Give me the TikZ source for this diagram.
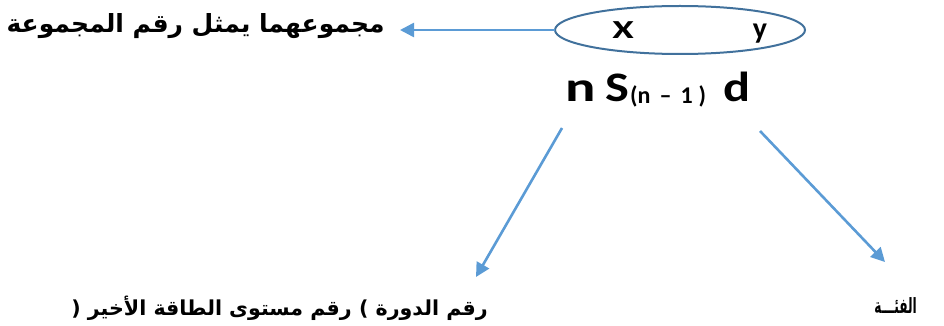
\documentclass[tikz,border=0pt]{standalone}
\usepackage{fontspec}
\usetikzlibrary{arrows.meta}
\TeXXeTstate=1
\newfontfamily\arabicfont[Script=Arabic]{DejaVu Sans}
\newfontfamily\latinfont{Carlito}
\definecolor{arrowblue}{HTML}{5B9BD5}
\definecolor{ringblue}{HTML}{41719C}
\tikzset{
  pointer/.style={draw=arrowblue, line width=2.6pt,
    -{Triangle[length=14pt,width=14pt]}},
  artext/.style={inner sep=0pt, font=\arabicfont\bfseries\fontsize{25}{25}\selectfont},
  lettertext/.style={inner sep=0pt, font=\latinfont\bfseries}
}
\begin{document}
\begin{tikzpicture}[x=1pt,y=-1pt]
\path[use as bounding box] (0,0) rectangle (944,326);

% ellipse grouping the two electron counts
\draw[draw=ringblue, line width=2pt] (680,30) ellipse [x radius=125, y radius=24];
\coordinate (ringW) at (555,30);
\node[lettertext, font=\latinfont\bfseries\fontsize{26}{26}\selectfont] (xx) at (623,30) {\scalebox{1.5}[1]{X}};
\node[lettertext, font=\latinfont\bfseries\fontsize{30}{30}\selectfont, anchor=base] (yy) at (760,39) {y};

% electron configuration  n s(n-1) d
\node[lettertext, font=\latinfont\bfseries\fontsize{42}{42}\selectfont, anchor=base west] (fn) at (565,102) {\scalebox{1.35}[1]{n}};
\node[lettertext, font=\latinfont\bfseries\fontsize{42}{42}\selectfont, anchor=base west] (fs) at (605,102) {\scalebox{1.2}[1]{S}};
\node[lettertext, font=\latinfont\bfseries\fontsize{24}{24}\selectfont, anchor=base west] (fsub) at (630,103)
  {(n\hspace{9pt}–\hspace{9pt}1\hspace{6pt})};
\node[lettertext, font=\latinfont\bfseries\fontsize{42}{42}\selectfont, anchor=base west] (fd) at (723,102) {\scalebox{1.2}[1]{d}};

% labels
\node[artext, anchor=base east] (sumlabel) at (385,33) {\beginR مجموعهما يمثل رقم المجموعة\endR};
\node[artext, anchor=base east, font=\arabicfont\bfseries\fontsize{20.6}{21}\selectfont] (periodlabel) at (488,315)
  {( {\beginR رقم مستوى الطاقة الأخير\endR} ) {\beginR رقم الدورة\endR}};
\node[artext, anchor=base east, font=\arabicfont\bfseries\fontsize{21}{21}\selectfont] (blocklabel) at (917,313)
  {\scalebox{0.58}[1]{\beginR الفئـــة\endR}};

% arrows
\coordinate (sumtip) at (400,30);
\coordinate (leftstart) at (562,128);
\coordinate (lefttip) at (476,277);
\coordinate (rightstart) at (760,131);
\coordinate (righttip) at (885,262);
\draw[pointer] (ringW) -- (sumtip);
\draw[pointer] (leftstart) -- (lefttip);
\draw[pointer] (rightstart) -- (righttip);
\end{tikzpicture}
\end{document}
